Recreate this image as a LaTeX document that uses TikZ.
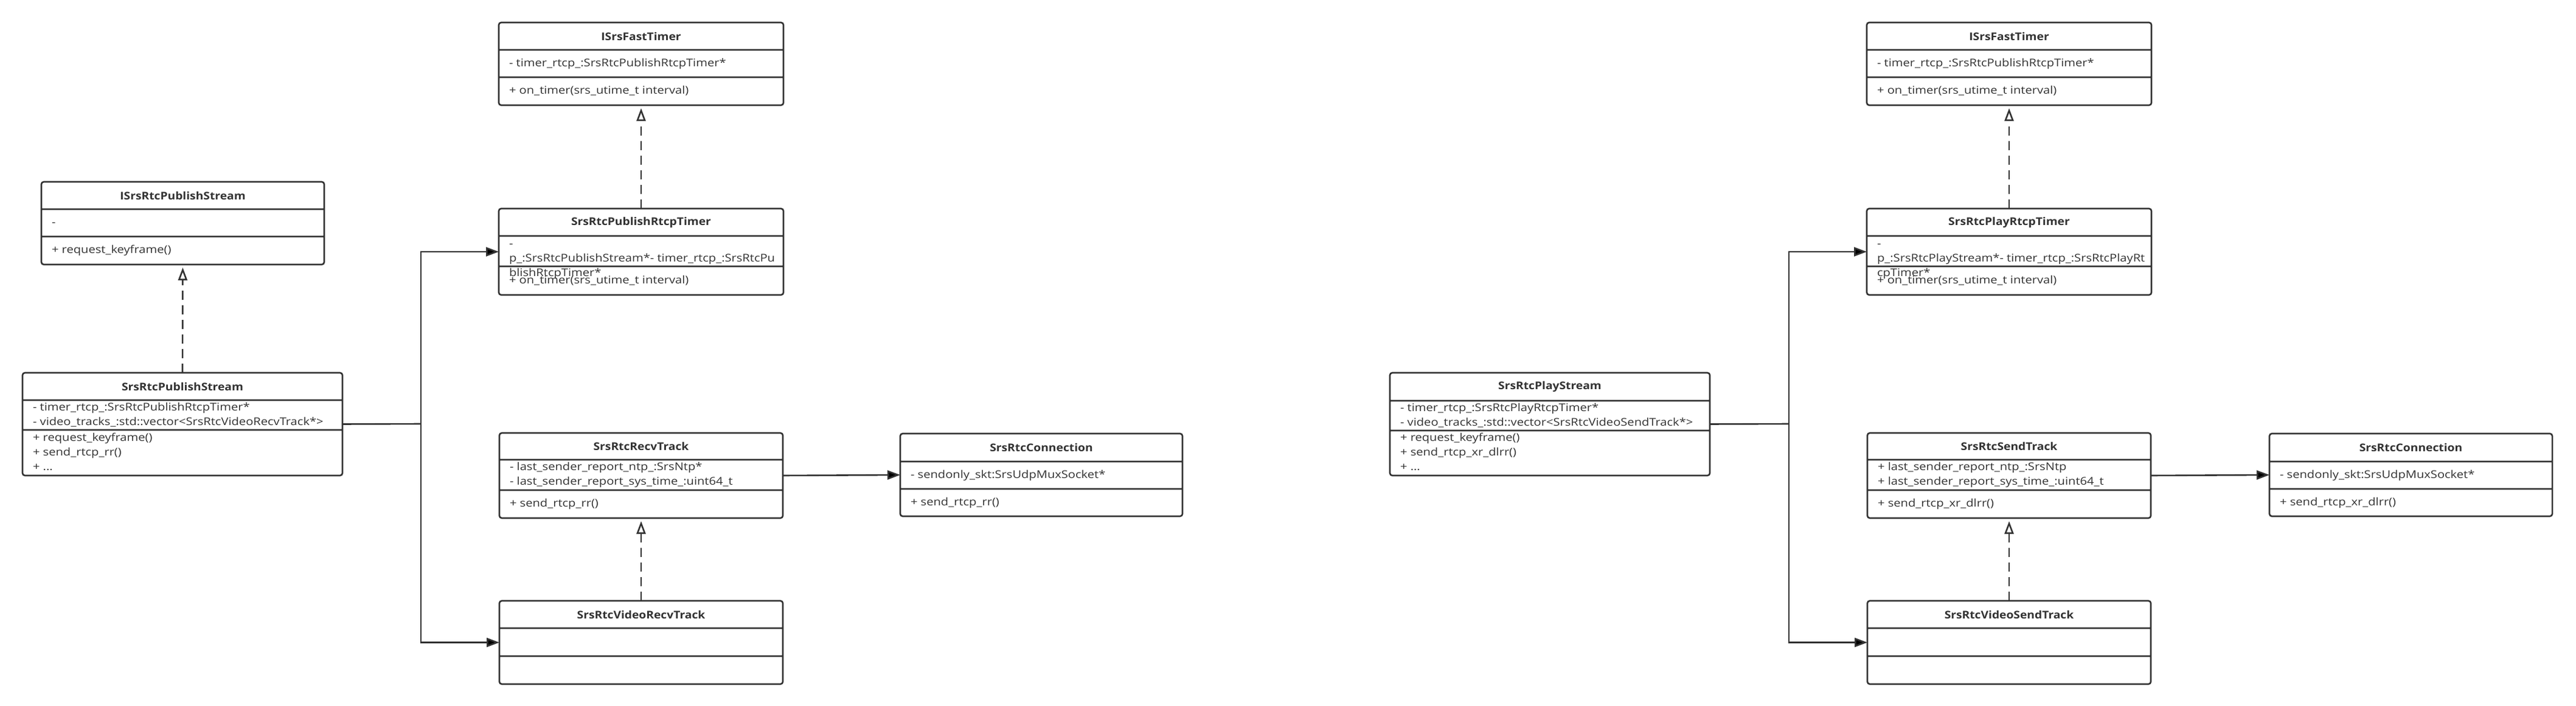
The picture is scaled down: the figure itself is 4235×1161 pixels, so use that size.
\documentclass[tikz,border=0pt]{standalone}
\usepackage{fontspec}
\setmainfont{Open Sans}
\newfontfamily\umltext{Open Sans}[FakeStretch=1.15]
\newfontfamily\umlhead{Open Sans}[FakeStretch=1.1]
\usetikzlibrary{arrows.meta,shapes.multipart}
\definecolor{umlgray}{HTML}{333333}
% a split part grows by the line width, so take it off here
\newcommand{\umltitle}[3][45pt]{\parbox[c][\dimexpr#1-2.6pt\relax][c]{#2}{\umlhead\fontsize{17.5}{24}\selectfont\centering\bfseries #3}}
\newcommand{\umlpart}[4][c]{\parbox[c][\dimexpr#3-2.6pt\relax][#1]{#2}{\umltext\fontsize{17.5}{24}\selectfont\begin{tabular}{@{}l@{}}#4\end{tabular}}}

\begin{document}
\begin{tikzpicture}[x=1pt,y=-1pt,>={Triangle[length=21pt,width=15pt]},
                    line width=2.6pt,draw=umlgray,text=umlgray]
  \tikzstyle{umlclass}=[rectangle split,rectangle split parts=3,draw=umlgray,
                        rounded corners=4pt,inner xsep=17pt,inner ysep=0pt,
                        outer sep=0pt,anchor=north west,fill=white]
  \tikzstyle{assoc}=[->,draw=umlgray]
  \tikzstyle{realize}=[-{Triangle[open,length=21pt,width=15pt]},draw=umlgray,
                       dash pattern=on 15pt off 9pt,shorten >=5pt]

  \fill[white] (0,0) rectangle (4235,1161);
  \useasboundingbox (0,0) rectangle (4235,1161);

  % publish side
  \node[umlclass] (ipub) at (68,299)
    {\umltitle{431pt}{ISrsRtcPublishStream}
     \nodepart{two}\umlpart{431pt}{45pt}{-}
     \nodepart{three}\umlpart{431pt}{46pt}{+ request\_keyframe()}};
  \node[umlclass] (pub) at (37,613)
    {\umltitle{492pt}{SrsRtcPublishStream}
     \nodepart{two}\umlpart{492pt}{49pt}{- timer\_rtcp\_:SrsRtcPublishRtcpTimer*\\
                                         - video\_tracks\_:std::vector<SrsRtcVideoRecvTrack*>}
     \nodepart{three}\umlpart{492pt}{75pt}{+ request\_keyframe()\\+ send\_rtcp\_rr()\\+ ...}};
  \node[umlclass] (ift) at (820,37)
    {\umltitle{434pt}{ISrsFastTimer}
     \nodepart{two}\umlpart{434pt}{45pt}{- timer\_rtcp\_:SrsRtcPublishRtcpTimer*}
     \nodepart{three}\umlpart{434pt}{46pt}{+ on\_timer(srs\_utime\_t interval)}};
  \node[umlclass] (prt) at (820,343)
    {\umltitle{434pt}{SrsRtcPublishRtcpTimer}
     \nodepart{two}\umlpart[t]{434pt}{50pt}{-\\p\_:SrsRtcPublishStream*- timer\_rtcp\_:SrsRtcPu\\blishRtcpTimer*}
     \nodepart{three}\umlpart{434pt}{47pt}{+ on\_timer(srs\_utime\_t interval)}};
  \node[umlclass] (rt) at (821,712)
    {\umltitle[44pt]{432pt}{SrsRtcRecvTrack}
     \nodepart{two}\umlpart{432pt}{50pt}{- last\_sender\_report\_ntp\_:SrsNtp*\\
                                         - last\_sender\_report\_sys\_time\_:uint64\_t}
     \nodepart{three}\umlpart{432pt}{46pt}{+ send\_rtcp\_rr()}};
  \node[umlclass] (conn) at (1480,713)
    {\umltitle[46pt]{430pt}{SrsRtcConnection}
     \nodepart{two}\umlpart{430pt}{45pt}{- sendonly\_skt:SrsUdpMuxSocket*}
     \nodepart{three}\umlpart{430pt}{45pt}{+ send\_rtcp\_rr()}};
  \node[umlclass] (vrt) at (821,988)
    {\umltitle{432pt}{SrsRtcVideoRecvTrack}
     \nodepart{two}\umlpart{432pt}{46pt}{}
     \nodepart{three}\umlpart{432pt}{46pt}{}};

  \coordinate (bus) at (692,697);
  \draw (pub.east) -- (bus);
  \draw[assoc] (bus) |- (prt.west);
  \draw[assoc] (bus) |- (vrt.west);
  \draw[assoc] (rt.east) -- (conn.west);
  \draw[realize] (pub.north) -- (ipub.south);
  \draw[realize] (prt.north) -- (ift.south);
  \draw[realize] (vrt.north) -- (rt.south);

  % play side
  \node[umlclass] (play) at (2285,613)
    {\umltitle[46pt]{492pt}{SrsRtcPlayStream}
     \nodepart{two}\umlpart{492pt}{49pt}{- timer\_rtcp\_:SrsRtcPlayRtcpTimer*\\
                                         - video\_tracks\_:std::vector<SrsRtcVideoSendTrack*>}
     \nodepart{three}\umlpart{492pt}{74pt}{+ request\_keyframe()\\+ send\_rtcp\_xr\_dlrr()\\+ ...}};
  \node[umlclass] (ift2) at (3069,37)
    {\umltitle{434pt}{ISrsFastTimer}
     \nodepart{two}\umlpart{434pt}{45pt}{- timer\_rtcp\_:SrsRtcPublishRtcpTimer*}
     \nodepart{three}\umlpart{434pt}{46pt}{+ on\_timer(srs\_utime\_t interval)}};
  \node[umlclass] (plrt) at (3069,343)
    {\umltitle{434pt}{SrsRtcPlayRtcpTimer}
     \nodepart{two}\umlpart[t]{434pt}{50pt}{-\\p\_:SrsRtcPlayStream*- timer\_rtcp\_:SrsRtcPlayRt\\cpTimer*}
     \nodepart{three}\umlpart{434pt}{47pt}{+ on\_timer(srs\_utime\_t interval)}};
  \node[umlclass] (st) at (3070,712)
    {\umltitle[44pt]{432pt}{SrsRtcSendTrack}
     \nodepart{two}\umlpart{432pt}{50pt}{+ last\_sender\_report\_ntp\_:SrsNtp\\
                                         + last\_sender\_report\_sys\_time\_:uint64\_t}
     \nodepart{three}\umlpart{432pt}{46pt}{+ send\_rtcp\_xr\_dlrr()}};
  \node[umlclass] (conn2) at (3731,713)
    {\umltitle[46pt]{431pt}{SrsRtcConnection}
     \nodepart{two}\umlpart{431pt}{45pt}{- sendonly\_skt:SrsUdpMuxSocket*}
     \nodepart{three}\umlpart{431pt}{45pt}{+ send\_rtcp\_xr\_dlrr()}};
  \node[umlclass] (vst) at (3070,988)
    {\umltitle{432pt}{SrsRtcVideoSendTrack}
     \nodepart{two}\umlpart{432pt}{46pt}{}
     \nodepart{three}\umlpart{432pt}{46pt}{}};

  \coordinate (bus2) at (2941,697);
  \draw (play.east) -- (bus2);
  \draw[assoc] (bus2) |- (plrt.west);
  \draw[assoc] (bus2) |- (vst.west);
  \draw[assoc] (st.east) -- (conn2.west);
  \draw[realize] (plrt.north) -- (ift2.south);
  \draw[realize] (vst.north) -- (st.south);

\end{tikzpicture}
\end{document}
